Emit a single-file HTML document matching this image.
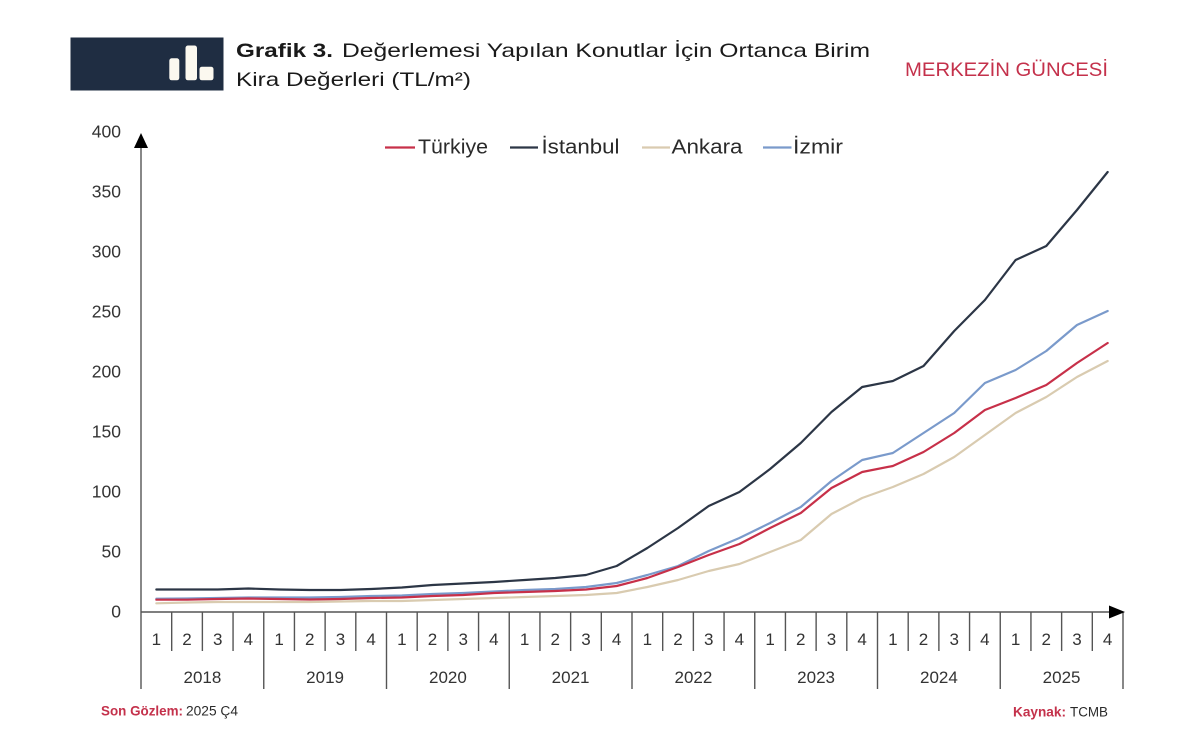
<!DOCTYPE html>
<html><head><meta charset="utf-8"><style>
html,body{margin:0;padding:0;background:#fff;}
svg{display:block;}
text{font-family:"Liberation Sans","DejaVu Sans",sans-serif;}
</style></head><body>
<svg width="1200" height="744" viewBox="0 0 1200 744" xmlns="http://www.w3.org/2000/svg">
<rect width="1200" height="744" fill="#fff"/>
<!-- header box -->
<rect x="70.5" y="37.5" width="153" height="53" fill="#1f2d42"/>
<rect x="169.3" y="58.3" width="10" height="22" rx="2.5" fill="#fbf8ef"/>
<rect x="185.5" y="45.5" width="11.5" height="34.8" rx="2.5" fill="#fbf8ef"/>
<rect x="199.5" y="66.7" width="14" height="13.6" rx="2.5" fill="#fbf8ef"/>
<text x="236" y="57" font-size="19.5" font-weight="bold" fill="#1a1a1a" textLength="97" lengthAdjust="spacingAndGlyphs">Grafik 3.</text>
<text x="342" y="57" font-size="19.5" fill="#1a1a1a" textLength="528" lengthAdjust="spacingAndGlyphs">Değerlemesi Yapılan Konutlar İçin Ortanca Birim</text>
<text x="236" y="86" font-size="19.5" fill="#1a1a1a" textLength="235" lengthAdjust="spacingAndGlyphs">Kira Değerleri (TL/m²)</text>
<text x="905" y="76" font-size="19.5" fill="#c4314b" textLength="203" lengthAdjust="spacingAndGlyphs">MERKEZİN GÜNCESİ</text>

<!-- legend -->
<g font-size="20" fill="#2a2a2a">
<line x1="385" y1="147.5" x2="415" y2="147.5" stroke="#c73049" stroke-width="2.2"/>
<text x="418" y="153.5" textLength="70" lengthAdjust="spacingAndGlyphs">Türkiye</text>
<line x1="510" y1="147.5" x2="538" y2="147.5" stroke="#2c3646" stroke-width="2.2"/>
<text x="541.5" y="153.5" textLength="78" lengthAdjust="spacingAndGlyphs">İstanbul</text>
<line x1="642" y1="147.5" x2="670" y2="147.5" stroke="#d9cbb0" stroke-width="2.2"/>
<text x="671.5" y="153.5" textLength="71" lengthAdjust="spacingAndGlyphs">Ankara</text>
<line x1="763" y1="147.5" x2="791.5" y2="147.5" stroke="#7a9acb" stroke-width="2.2"/>
<text x="793" y="153.5" textLength="50" lengthAdjust="spacingAndGlyphs">İzmir</text>
</g>

<!-- y tick labels -->
<g font-size="17.5" fill="#333" text-anchor="end">
<text x="121" y="137.7">400</text>
<text x="121" y="197.7">350</text>
<text x="121" y="257.7">300</text>
<text x="121" y="317.7">250</text>
<text x="121" y="377.7">200</text>
<text x="121" y="437.7">150</text>
<text x="121" y="497.7">100</text>
<text x="121" y="557.7">50</text>
<text x="121" y="617.7">0</text>
</g>

<!-- series -->
<g fill="none" stroke-width="2.2" stroke-linejoin="round" stroke-linecap="round">
<polyline stroke="#d9cbb0" points="156.34,603.3 187.03,602.5 217.72,602 248.41,602 279.09,602 309.78,602 340.47,601.5 371.16,601 401.84,601 432.53,600 463.22,599 493.91,598 524.59,597 555.28,596 585.97,595 616.66,593 647.34,587 678.03,580 708.72,571 739.41,564 770.09,552 800.78,540 831.47,514 862.16,498 892.84,487 923.53,474 954.22,457 984.91,435 1015.59,413 1046.28,397 1076.97,377 1107.66,361"/>
<polyline stroke="#7a9acb" points="156.34,598.7 187.03,598.5 217.72,598 248.41,597.5 279.09,597.5 309.78,597.5 340.47,597 371.16,596 401.84,595.5 432.53,594 463.22,593 493.91,591.5 524.59,590 555.28,589 585.97,587 616.66,583 647.34,575 678.03,566 708.72,551 739.41,538 770.09,523 800.78,507 831.47,481 862.16,460 892.84,453 923.53,433 954.22,413 984.91,383 1015.59,370 1046.28,351 1076.97,325 1107.66,311"/>
<polyline stroke="#c73049" points="156.34,599.7 187.03,599.7 217.72,599 248.41,598.5 279.09,599 309.78,599.5 340.47,599 371.16,598 401.84,597.5 432.53,596 463.22,595 493.91,593 524.59,592 555.28,591 585.97,589.5 616.66,586 647.34,578 678.03,567 708.72,555 739.41,544 770.09,528 800.78,513 831.47,488 862.16,472 892.84,466 923.53,452 954.22,433 984.91,410 1015.59,398 1046.28,385 1076.97,363 1107.66,343"/>
<polyline stroke="#2c3646" points="156.34,589.5 187.03,589.5 217.72,589.5 248.41,588.5 279.09,589.5 309.78,590 340.47,590 371.16,589 401.84,587.5 432.53,585 463.22,583.5 493.91,582 524.59,580 555.28,578 585.97,575 616.66,566 647.34,548 678.03,528 708.72,506 739.41,492 770.09,469 800.78,443 831.47,412 862.16,387 892.84,381 923.53,366 954.22,331 984.91,300 1015.59,260 1046.28,246 1076.97,210 1107.66,172"/>
</g>

<!-- axes -->
<g stroke="#555" stroke-width="1.4">
<line x1="141" y1="145" x2="141" y2="689"/>
<line x1="141" y1="612" x2="1112" y2="612"/>
<!-- quarter separators -->
<line x1="171.69" y1="612" x2="171.69" y2="651"/>
<line x1="202.38" y1="612" x2="202.38" y2="651"/>
<line x1="233.06" y1="612" x2="233.06" y2="651"/>
<line x1="294.44" y1="612" x2="294.44" y2="651"/>
<line x1="325.13" y1="612" x2="325.13" y2="651"/>
<line x1="355.81" y1="612" x2="355.81" y2="651"/>
<line x1="417.19" y1="612" x2="417.19" y2="651"/>
<line x1="447.88" y1="612" x2="447.88" y2="651"/>
<line x1="478.56" y1="612" x2="478.56" y2="651"/>
<line x1="539.94" y1="612" x2="539.94" y2="651"/>
<line x1="570.63" y1="612" x2="570.63" y2="651"/>
<line x1="601.31" y1="612" x2="601.31" y2="651"/>
<line x1="662.69" y1="612" x2="662.69" y2="651"/>
<line x1="693.38" y1="612" x2="693.38" y2="651"/>
<line x1="724.06" y1="612" x2="724.06" y2="651"/>
<line x1="785.44" y1="612" x2="785.44" y2="651"/>
<line x1="816.13" y1="612" x2="816.13" y2="651"/>
<line x1="846.81" y1="612" x2="846.81" y2="651"/>
<line x1="908.19" y1="612" x2="908.19" y2="651"/>
<line x1="938.88" y1="612" x2="938.88" y2="651"/>
<line x1="969.56" y1="612" x2="969.56" y2="651"/>
<line x1="1030.94" y1="612" x2="1030.94" y2="651"/>
<line x1="1061.63" y1="612" x2="1061.63" y2="651"/>
<line x1="1092.31" y1="612" x2="1092.31" y2="651"/>
<!-- year separators -->
<line x1="263.75" y1="612" x2="263.75" y2="689"/>
<line x1="386.5" y1="612" x2="386.5" y2="689"/>
<line x1="509.25" y1="612" x2="509.25" y2="689"/>
<line x1="632" y1="612" x2="632" y2="689"/>
<line x1="754.75" y1="612" x2="754.75" y2="689"/>
<line x1="877.5" y1="612" x2="877.5" y2="689"/>
<line x1="1000.25" y1="612" x2="1000.25" y2="689"/>
<line x1="1123" y1="612" x2="1123" y2="689"/>
</g>
<polygon points="141,133 134,148 148,148" fill="#000"/>
<polygon points="1125,612 1109,605.5 1109,618.5" fill="#000"/>

<!-- quarter labels -->
<g font-size="17" fill="#333" text-anchor="middle">
<text x="156.34" y="645">1</text><text x="187.03" y="645">2</text><text x="217.72" y="645">3</text><text x="248.41" y="645">4</text>
<text x="279.09" y="645">1</text><text x="309.78" y="645">2</text><text x="340.47" y="645">3</text><text x="371.16" y="645">4</text>
<text x="401.84" y="645">1</text><text x="432.53" y="645">2</text><text x="463.22" y="645">3</text><text x="493.91" y="645">4</text>
<text x="524.59" y="645">1</text><text x="555.28" y="645">2</text><text x="585.97" y="645">3</text><text x="616.66" y="645">4</text>
<text x="647.34" y="645">1</text><text x="678.03" y="645">2</text><text x="708.72" y="645">3</text><text x="739.41" y="645">4</text>
<text x="770.09" y="645">1</text><text x="800.78" y="645">2</text><text x="831.47" y="645">3</text><text x="862.16" y="645">4</text>
<text x="892.84" y="645">1</text><text x="923.53" y="645">2</text><text x="954.22" y="645">3</text><text x="984.91" y="645">4</text>
<text x="1015.59" y="645">1</text><text x="1046.28" y="645">2</text><text x="1076.97" y="645">3</text><text x="1107.66" y="645">4</text>
<text x="202.4" y="683">2018</text>
<text x="325.1" y="683">2019</text>
<text x="447.9" y="683">2020</text>
<text x="570.6" y="683">2021</text>
<text x="693.4" y="683">2022</text>
<text x="816.1" y="683">2023</text>
<text x="938.9" y="683">2024</text>
<text x="1061.6" y="683">2025</text>
</g>

<!-- footer -->
<text x="101" y="715.5" font-size="13.5" font-weight="bold" fill="#c4314b" textLength="82" lengthAdjust="spacingAndGlyphs">Son Gözlem:</text>
<text x="186" y="715.5" font-size="13.5" fill="#2a2a2a" textLength="52" lengthAdjust="spacingAndGlyphs">2025 Ç4</text>
<text x="1013" y="716.5" font-size="13.5" font-weight="bold" fill="#c4314b" textLength="53" lengthAdjust="spacingAndGlyphs">Kaynak:</text>
<text x="1070" y="716.5" font-size="13.5" fill="#2a2a2a" textLength="38" lengthAdjust="spacingAndGlyphs">TCMB</text>
</svg>
</body></html>
